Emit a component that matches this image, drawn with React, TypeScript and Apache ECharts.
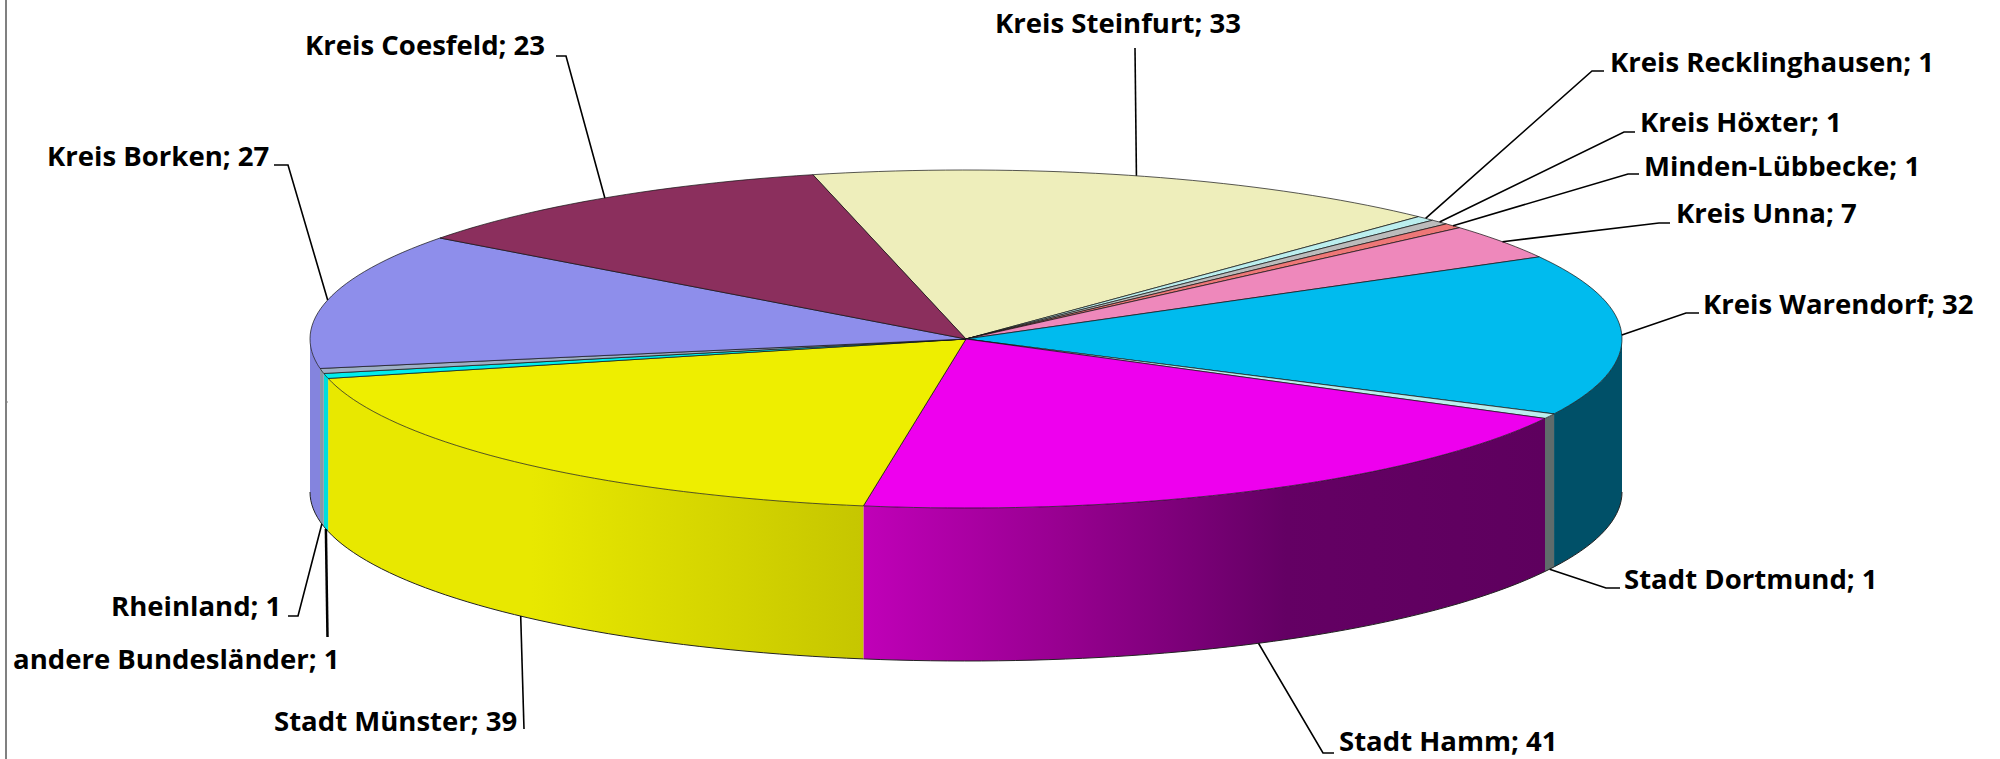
import React, { useEffect, useRef } from "react";
import * as echarts from "echarts";

const categories = [
  "Kreis Steinfurt", "Kreis Recklinghausen", "Kreis Höxter", "Minden-Lübbecke", "Kreis Unna",
  "Kreis Warendorf", "Stadt Dortmund", "Stadt Hamm", "Stadt Münster", "andere Bundesländer",
  "Rheinland", "Kreis Borken", "Kreis Coesfeld",
];
const values = [33, 1, 1, 1, 7, 32, 1, 41, 39, 1, 1, 27, 23];

const topColors = [
  "#EEEEBB", "#BBEEEE", "#BBBBBB", "#EE7777", "#EE88BB", "#00BBEE", "#BBEEEE",
  "#EE00EE", "#EEEE00", "#00EEEE", "#9EAFC5", "#8E8EEB", "#8B2F5D",
];
const sideStops: (string | [number, string][])[] = [
  "#C8C89A", "#9CC8C8", "#999999", "#C86060", "#C870A0", "#005068", "#5F6B6B",
  [[0, "#C000B8"], [0.3, "#96008F"], [0.62, "#640064"], [1, "#5E005E"]],
  [[0, "#E8E800"], [0.38, "#E8E800"], [1, "#C6C600"]],
  "#00DDDD", "#8896A8", "#8484DE", "#702048",
];

// label placement: text left edge, text middle, and the leader's elbow path from the text outwards
const labelLayout: { x: number; y: number; path: number[][]; width?: number }[] = [
  { x: 995, y: 23, path: [[1135, 48]] },
  { x: 1610, y: 62, path: [[1604, 71], [1592, 71]] },
  { x: 1640, y: 122, path: [[1635, 132], [1624, 132]] },
  { x: 1644, y: 166, path: [[1639, 174], [1628, 174]] },
  { x: 1676, y: 213, path: [[1670, 223], [1659, 223]] },
  { x: 1703, y: 304, path: [[1699, 313], [1686, 313]] },
  { x: 1624, y: 579, path: [[1620, 588], [1606, 588]] },
  { x: 1339, y: 741, path: [[1334, 753], [1323, 753]] },
  { x: 274, y: 721, path: [[524, 729]] },
  { x: 13, y: 659, path: [[327.5, 637]], width: 2.5 },
  { x: 111, y: 606, path: [[288, 616], [298, 616]] },
  { x: 47, y: 156, path: [[274, 165], [288, 165]] },
  { x: 305, y: 45, path: [[556, 56], [566, 56]] },
];

const CX = 966;
const CY = 339;
const RX = 656;
const RY = 169;
const DEPTH = 153;
const START_DEG = -13.5;
const TEXT_SCALE = 1.02;

const total = values.reduce((a, b) => a + b, 0);
const rad = (d: number) => (d * Math.PI) / 180;
const rim = (deg: number, dy = 0): number[] => [
  CX + RX * Math.sin(rad(deg)),
  CY - RY * Math.cos(rad(deg)) + dy,
];
const arc = (a0: number, a1: number, dy = 0): number[][] => {
  const n = Math.max(2, Math.ceil((a1 - a0) / 1.5));
  const out: number[][] = [];
  for (let i = 0; i <= n; i++) out.push(rim(a0 + ((a1 - a0) * i) / n, dy));
  return out;
};
const sliceStart = (i: number) =>
  START_DEG + (values.slice(0, i).reduce((a, b) => a + b, 0) / total) * 360;

function renderSlice(params: any, api: any) {
  const i = params.dataIndex;
  const a0 = sliceStart(i);
  const a1 = a0 + (api.value(1) / total) * 360;
  const mid = (a0 + a1) / 2;
  const children: any[] = [];

  const w0 = Math.max(a0, 90);
  const w1 = Math.min(a1, 270);
  if (w1 > w0) {
    const stops = sideStops[i];
    const fill =
      typeof stops === "string"
        ? stops
        : new echarts.graphic.LinearGradient(
            0, 0, 1, 0,
            stops.map(([offset, color]) => ({ offset, color })),
          );
    children.push({
      type: "polygon",
      shape: { points: [...arc(w0, w1), ...arc(w0, w1, DEPTH).reverse()] },
      style: { fill, stroke: "none" },
    });
    children.push({
      type: "polyline",
      shape: { points: arc(w0, w1, DEPTH) },
      style: { fill: "none", stroke: "#222222", lineWidth: 1 },
    });
  }

  children.push({
    type: "polygon",
    shape: { points: [[CX, CY], ...arc(a0, a1)] },
    style: { fill: topColors[i], stroke: "#111111", lineWidth: 0.7, lineJoin: "round" },
  });

  // leader: from the slice's rim (lower rim for the front half) to the label
  const front = mid > 100 && mid < 260;
  const layout = labelLayout[i];
  children.push({
    type: "polyline",
    shape: { points: [...layout.path, rim(mid, front ? DEPTH : 0)] },
    style: { fill: "none", stroke: "#000000", lineWidth: layout.width ?? 1.6 },
  });
  children.push({
    type: "text",
    x: layout.x,
    y: layout.y,
    scaleX: TEXT_SCALE,
    style: {
      text: `${categories[i]}; ${api.value(1)}`,
      x: 0,
      y: 0,
      fill: "#000000",
      fontFamily: "Open Sans",
      fontWeight: 700,
      fontSize: 27,
      textAlign: "left",
      textVerticalAlign: "middle",
    },
  });
  return { type: "group", children };
}

export default function App() {
  const ref = useRef<HTMLDivElement>(null);
  useEffect(() => {
    const chart = echarts.init(ref.current!, null, { renderer: "svg" });
    chart.setOption({
      animation: false,
      backgroundColor: "#ffffff",
      graphic: [
        { type: "line", shape: { x1: 6, y1: 0, x2: 6, y2: 759 }, style: { stroke: "#808080", lineWidth: 2 } },
        { type: "line", shape: { x1: 6, y1: 402, x2: 8, y2: 402 }, style: { stroke: "#808080", lineWidth: 1 } },
      ],
      series: [
        {
          type: "custom",
          coordinateSystem: "none",
          renderItem: renderSlice,
          data: categories.map((name, i) => ({ name, value: [i, values[i]] })),
        },
      ],
    });
    return () => chart.dispose();
  }, []);
  return <div ref={ref} style={{ position: "fixed", left: 0, top: 0, width: 2000, height: 759 }} />;
}
